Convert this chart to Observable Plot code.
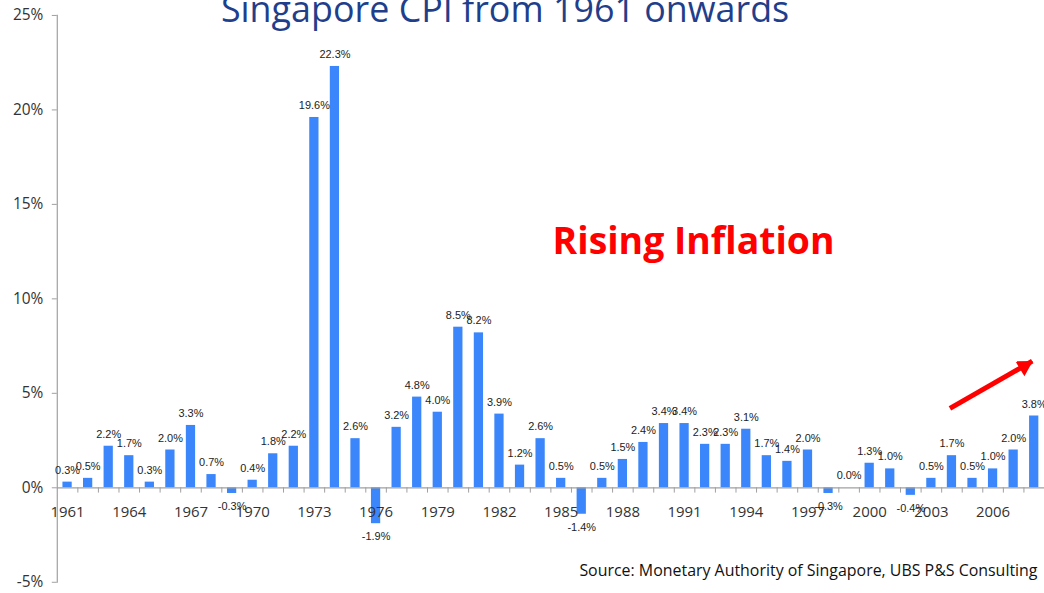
<!DOCTYPE html>
<html>
<head>
<meta charset="utf-8">
<script src="https://cdn.jsdelivr.net/npm/d3@7"></script>
<script src="https://cdn.jsdelivr.net/npm/@observablehq/plot@0.6"></script>
<style>
  html, body { margin: 0; padding: 0; background: #fff; overflow: hidden; }
  #chart { width: 1044px; height: 593px; overflow: hidden; }
</style>
</head>
<body>
<div id="chart"></div>
<script>
const years = [1961,1962,1963,1964,1965,1966,1967,1968,1969,1970,1971,1972,1973,1974,1975,1976,1977,1978,1979,1980,1981,1982,1983,1984,1985,1986,1987,1988,1989,1990,1991,1992,1993,1994,1995,1996,1997,1998,1999,2000,2001,2002,2003,2004,2005,2006,2007,2008];
const cpi = [0.3,0.5,2.2,1.7,0.3,2.0,3.3,0.7,-0.3,0.4,1.8,2.2,19.6,22.3,2.6,-1.9,3.2,4.8,4.0,8.5,8.2,3.9,1.2,2.6,0.5,-1.4,0.5,1.5,2.4,3.4,3.4,2.3,2.3,3.1,1.7,1.4,2.0,-0.3,0.0,1.3,1.0,-0.4,0.5,1.7,0.5,1.0,2.0,3.8];
const xTickYears = [1961,1964,1967,1970,1973,1976,1979,1982,1985,1988,1991,1994,1997,2000,2003,2006];
const yTicks = [-5,0,5,10,15,20,25];
const titleText = "Singapore CPI from 1961 onwards";
const annotationText = "Rising Inflation";
const sourceText = "Source: Monetary Authority of Singapore, UBS P&S Consulting";
const arrowFrom = {year: 2004, value: 4.2};
const arrowTo = {year: 2008, value: 6.7};
const annotationAt = {year: 1991, value: 13.0};

const data = years.map((y, i) => ({year: y, value: cpi[i]}));
const pos = data.filter(d => d.value >= 0);
const neg = data.filter(d => d.value < 0);

const W = 1048, H = 593, ML = 57, MR = 0, MT = 15, MB = 9;
const step = (W - ML - MR) / years.length;
const fmt = d => d.value.toFixed(1) + "%";
const labelStyle = {
  x: "year", y: "value", text: fmt,
  fontSize: 11, fill: "#222",
  fontFamily: "'Liberation Sans', Arial, sans-serif",
  style: "letter-spacing:-0.3px"
};

const chart = Plot.plot({
  width: W,
  height: H,
  marginLeft: ML,
  marginRight: MR,
  marginTop: MT,
  marginBottom: MB,
  style: {fontFamily: "'Open Sans', sans-serif", background: "#fff", overflow: "visible"},
  x: {type: "band", domain: years, paddingInner: 0.55, paddingOuter: 0.275, axis: null},
  y: {domain: [-5, 25], axis: null, label: null},
  marks: [
    Plot.frame({anchor: "left", stroke: "#a0a0a0", strokeWidth: 1.2}),
    Plot.axisY({ticks: yTicks, tickFormat: d => d + "%", tickSize: 5, tickPadding: 9, stroke: "#a0a0a0", fontSize: 15.5, fill: "#333", label: null}),
    Plot.barY(data, {x: "year", y: "value", fill: "#3a86fa"}),
    Plot.ruleY([0], {stroke: "#a0a0a0", strokeWidth: 1.2}),
    Plot.ruleX(years, {x: d => d, y1: 0, y2: -0.28, dx: step / 2, stroke: "#a0a0a0"}),
    Plot.text(xTickYears, {x: d => d, y: 0, text: d => String(d), dy: 25, fontSize: 15, fill: "#333"}),
    Plot.text(pos, {...labelStyle, dy: -12}),
    Plot.text(neg, {...labelStyle, dy: 13}),
    Plot.text([titleText], {frameAnchor: "top", text: d => d, lineAnchor: "bottom", dy: 7, dx: -46, fontSize: 36, fill: "#1f3f8c", style: "letter-spacing:0.6px"}),
    Plot.text([annotationText], {x: () => annotationAt.year, y: () => annotationAt.value, text: d => d, fontSize: 37.5, fontWeight: "bold", fill: "#ff0000", dx: 9}),
    Plot.link([0], {x1: () => arrowFrom.year, y1: () => arrowFrom.value, x2: () => arrowTo.year, y2: () => arrowTo.value, stroke: "#ff0000", strokeWidth: 5, dx: -2}),
    Plot.dot([0], {x: () => arrowTo.year, y: () => arrowTo.value, symbol: "triangle", r: 6.5, fill: "#ff0000", rotate: 59, dx: -10, dy: 5}),
    Plot.text([sourceText], {frameAnchor: "bottom-right", text: d => d, textAnchor: "end", lineAnchor: "bottom", dx: -7, dy: -6, fontSize: 16, fill: "#111"})
  ]
});
document.getElementById("chart").appendChild(chart);
</script>
</body>
</html>
